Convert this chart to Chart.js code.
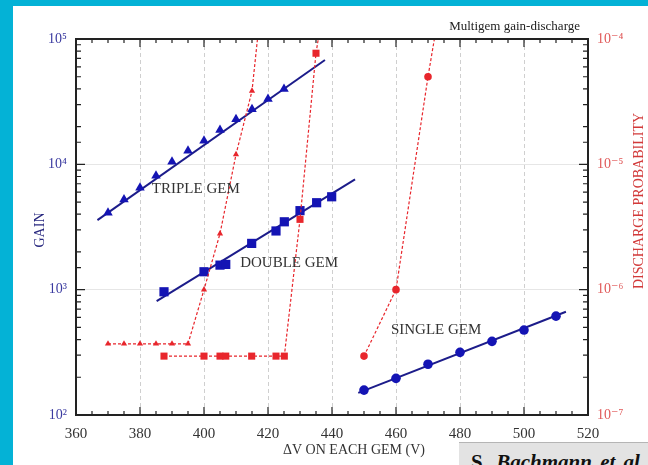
<!DOCTYPE html>
<html>
<head>
<meta charset="utf-8">
<script src="https://cdn.jsdelivr.net/npm/chart.js@4/dist/chart.umd.min.js"></script>
<style>
  html, body { margin: 0; padding: 0; }
  body { width: 648px; height: 465px; background: #04b2d6; position: relative; overflow: hidden; }
  #panel { position: absolute; left: 13px; top: 6px; width: 635px; height: 459px; background: #fff; }
  #wrap { position: absolute; left: 13px; top: 6px; width: 635px; height: 459px; }
  #credit { position: absolute; left: 459px; top: 442px; width: 189px; height: 23px; background: #e3e3e3;
            border-top: 1px solid #b5b5b5; overflow: hidden; font-family: "Liberation Serif", serif;
            font-weight: bold; font-size: 21px; color: #111; }
  #credit span { position: absolute; left: 12px; top: 7px; white-space: nowrap; word-spacing: 3px; }
</style>
</head>
<body>
<div id="panel"></div>
<div id="wrap"><canvas id="gemChart" width="635" height="459"></canvas></div>
<div id="credit"><span>S. <i>Bachmann et al.</i></span></div>
<script>
// gain curves (left axis)
const tripleV = [370, 375, 380, 385, 390, 395, 400, 405, 410, 415, 420, 425];
const tripleGain = [4100, 5250, 6500, 8100, 10500, 12850, 15400, 18800, 22900, 27500, 33200, 39900];
const tripleFitV = [366.7, 437.8];
const tripleFitGain = [3590, 68000];

const doubleV = [387.5, 400, 405, 406.8, 414.9, 422.5, 425.1, 430, 435.2, 439.9];
const doubleGain = [962, 1390, 1570, 1590, 2340, 2940, 3480, 4270, 4940, 5510];
const doubleFitV = [385.2, 447.2];
const doubleFitGain = [811, 7590];

const singleV = [450, 460, 470, 480, 490, 500, 510];
const singleGain = [158, 196, 254, 316, 387, 476, 615];
const singleFitV = [448.2, 513.1];
const singleFitGain = [150, 667];

// discharge probability (right axis)
const tripleDisV = [370, 375, 380, 385, 390, 395, 400, 405, 410, 415, 420];
const tripleDisP = [3.7e-7, 3.7e-7, 3.7e-7, 3.7e-7, 3.7e-7, 3.7e-7, 1.0e-6, 2.8e-6, 1.2e-5, 3.85e-5, 6.2e-4];
const doubleDisV = [387.5, 400, 405, 406.8, 414.9, 422.5, 425.1, 430, 435, 440];
const doubleDisP = [2.95e-7, 2.95e-7, 2.95e-7, 2.95e-7, 2.95e-7, 2.95e-7, 2.95e-7, 3.64e-6, 7.7e-5, 4.8e-4];
const singleDisV = [450, 460, 470, 475];
const singleDisP = [2.95e-7, 1.0e-6, 5.0e-5, 2.85e-4];

const xTicks = [360, 380, 400, 420, 440, 460, 480, 500, 520];

const curveLabels = [
    {text: 'TRIPLE GEM', x: 383.7, y: 6350},
    {text: 'DOUBLE GEM', x: 411.3, y: 1640},
    {text: 'SINGLE GEM', x: 458.4, y: 476}
];

const BLUE = '#1414b4';
const NAVY = '#1c1c8a';
const RED = '#e8262c';
const SERIF = '"Liberation Serif", "DejaVu Serif", serif';

const pts = (xs, ys) => xs.map((x, i) => ({x: x, y: ys[i]}));
const sup = {'0': '⁰', '1': '¹', '2': '²', '3': '³', '4': '⁴', '5': '⁵', '6': '⁶', '7': '⁷', '8': '⁸', '9': '⁹', '-': '⁻'};
const powLabel = v => '10' + String(Math.round(Math.log10(v))).split('').map(c => sup[c]).join('');
const isDecade = v => Math.abs(Math.log10(v) - Math.round(Math.log10(v))) < 1e-6;

function gainMarks(data, style, r) {
    return {data: data, yAxisID: 'y', showLine: false, pointStyle: style, pointRadius: r,
        pointBackgroundColor: BLUE, pointBorderColor: BLUE, pointBorderWidth: 0, order: 1};
}
function fitLine(data) {
    return {data: data, yAxisID: 'y', showLine: true, borderColor: NAVY, borderWidth: 2,
        pointRadius: 0, order: 2};
}
function disLine(data, style, r) {
    return {data: data, yAxisID: 'y2', showLine: true, borderColor: RED, borderWidth: 1.2,
        borderDash: [3, 2], pointStyle: style, pointRadius: r, pointBackgroundColor: RED,
        pointBorderColor: RED, pointBorderWidth: 0, order: 0};
}

// frame, inward ticks and the free text
const decorPlugin = {
    id: 'decor',
    afterDraw(chart) {
        const {ctx, chartArea: a, scales} = chart;
        ctx.save();
        ctx.strokeStyle = '#222';
        ctx.lineWidth = 1.2;
        ctx.beginPath();
        for (let v = 360; v <= 520; v += 5) {
            const px = scales.x.getPixelForValue(v);
            const len = v % 20 === 0 ? 8 : 4;
            ctx.moveTo(px, a.bottom); ctx.lineTo(px, a.bottom - len);
            ctx.moveTo(px, a.top); ctx.lineTo(px, a.top + len);
        }
        scales.y.ticks.forEach(t => {
            const py = scales.y.getPixelForValue(t.value);
            const len = isDecade(t.value) ? 9 : 5;
            ctx.moveTo(a.left, py); ctx.lineTo(a.left + len, py);
        });
        scales.y2.ticks.forEach(t => {
            const py = scales.y2.getPixelForValue(t.value);
            const len = isDecade(t.value) ? 9 : 5;
            ctx.moveTo(a.right, py); ctx.lineTo(a.right - len, py);
        });
        ctx.stroke();
        ctx.lineWidth = 2;
        ctx.strokeRect(a.left, a.top, a.right - a.left, a.bottom - a.top);

        ctx.font = '15px ' + SERIF;
        ctx.fillStyle = '#333';
        ctx.textBaseline = 'middle';
        ctx.textAlign = 'left';
        curveLabels.forEach(l => {
            ctx.fillText(l.text, scales.x.getPixelForValue(l.x), scales.y.getPixelForValue(l.y));
        });

        ctx.font = '13px ' + SERIF;
        ctx.fillStyle = '#222';
        ctx.textAlign = 'right';
        ctx.fillText('Multigem gain-discharge', a.right - 8, a.top - 12);

        ctx.font = '14px ' + SERIF;
        ctx.textAlign = 'center';
        ctx.fillStyle = '#333';
        ctx.fillText('ΔV ON EACH GEM (V)', (a.left + a.right) / 2 + 22, a.bottom + 35);

        ctx.save();
        ctx.translate(27, (a.top + a.bottom) / 2 + 3);
        ctx.rotate(-Math.PI / 2);
        ctx.fillStyle = '#26267e';
        ctx.fillText('GAIN', 0, 0);
        ctx.restore();

        ctx.save();
        ctx.translate(a.right + 51, (a.top + a.bottom) / 2 - 26);
        ctx.rotate(-Math.PI / 2);
        ctx.fillStyle = '#d23a3a';
        ctx.fillText('DISCHARGE PROBABILITY', 0, 0);
        ctx.restore();
        ctx.restore();
    }
};

const ctx = document.getElementById('gemChart').getContext('2d');
new Chart(ctx, {
    type: 'scatter',
    data: {
        datasets: [
            fitLine(pts(tripleFitV, tripleFitGain)),
            fitLine(pts(doubleFitV, doubleFitGain)),
            fitLine(pts(singleFitV, singleFitGain)),
            gainMarks(pts(tripleV, tripleGain), 'triangle', 5.5),
            gainMarks(pts(doubleV, doubleGain), 'rect', 6.5),
            gainMarks(pts(singleV, singleGain), 'circle', 4.8),
            disLine(pts(tripleDisV, tripleDisP), 'triangle', 3.6),
            disLine(pts(doubleDisV, doubleDisP), 'rect', 5),
            disLine(pts(singleDisV, singleDisP), 'circle', 3.8)
        ]
    },
    options: {
        responsive: false,
        animation: false,
        layout: {padding: {top: 33}},
        plugins: {legend: {display: false}, tooltip: {enabled: false}},
        scales: {
            x: {
                type: 'linear', min: 360, max: 520,
                afterBuildTicks: s => { s.ticks = xTicks.map(v => ({value: v})); },
                afterFit: s => { s.height = 50; },
                ticks: {padding: 10, color: '#333', font: {family: SERIF, size: 15}},
                grid: {drawTicks: false,
                       color: c => (c.tick && (c.tick.value === 360 || c.tick.value === 520)) ? 'rgba(0,0,0,0)' : '#cfcfcf',
                       lineWidth: 1},
                border: {display: false, dash: [4, 3]}
            },
            y: {
                type: 'logarithmic', min: 100, max: 100000, position: 'left',
                afterFit: s => { s.width = 63; },
                ticks: {padding: 9, color: '#3a3aa0', font: {family: SERIF, size: 14},
                        autoSkip: false,
                        callback: v => isDecade(v) ? powLabel(v) : ''},
                grid: {drawTicks: false,
                       color: c => (c.tick && isDecade(c.tick.value) && c.tick.value > 100 && c.tick.value < 100000) ? '#e6e6e6' : 'rgba(0,0,0,0)'},
                border: {display: false}
            },
            y2: {
                type: 'logarithmic', min: 1e-7, max: 1e-4, position: 'right',
                afterFit: s => { s.width = 60; },
                ticks: {padding: 9, color: '#e05858', font: {family: SERIF, size: 14},
                        autoSkip: false,
                        callback: v => isDecade(v) ? powLabel(v) : ''},
                grid: {drawOnChartArea: false, drawTicks: false},
                border: {display: false}
            }
        }
    },
    plugins: [decorPlugin]
});
</script>
</body>
</html>
